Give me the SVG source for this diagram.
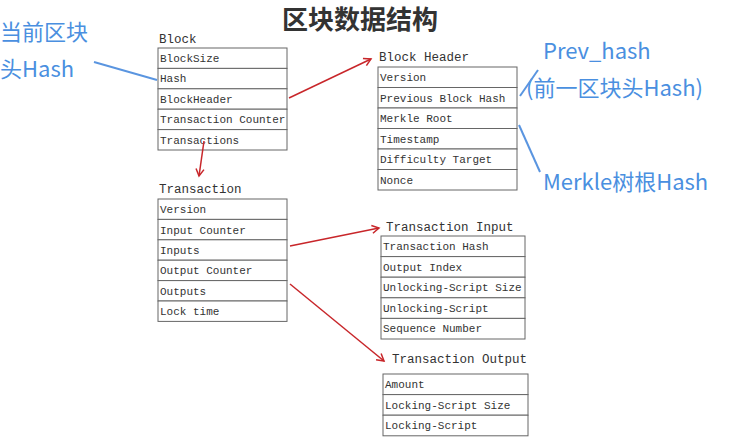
<svg xmlns="http://www.w3.org/2000/svg" width="736" height="437" viewBox="0 0 736 437">
<style>
.r{fill:#fff;stroke:#666;stroke-width:1}
.t{font-family:"Liberation Mono","Noto Sans CJK SC",monospace;font-size:11px;fill:#333}
.h{font-family:"Liberation Mono","Noto Sans CJK SC",monospace;font-size:12.5px;fill:#333}
.b{font-family:"Noto Sans CJK SC",sans-serif;font-size:22px;fill:#4a8fe0}
.bl{stroke:#5a95e0;stroke-width:2;fill:none}
.a{stroke:#c8262a;stroke-width:1.5;fill:none;marker-end:url(#m)}
</style>
<defs><marker id="m" markerWidth="10" markerHeight="10" refX="8" refY="5" orient="auto" markerUnits="userSpaceOnUse"><path d="M1,1 L8,5 L1,9" fill="none" stroke="#c8262a" stroke-width="1.5"/></marker></defs>
<rect width="736" height="437" fill="#fff"/>
<text x="360" y="29" text-anchor="middle" font-family="Noto Sans CJK SC,sans-serif" font-size="26" font-weight="bold" fill="#333">区块数据结构</text>
<g id="block">
<text class="h" x="159" y="43">Block</text>
<rect class="r" x="158" y="48" width="129" height="20.4"/><rect class="r" x="158" y="68.4" width="129" height="20.4"/><rect class="r" x="158" y="88.8" width="129" height="20.4"/><rect class="r" x="158" y="109.2" width="129" height="20.4"/><rect class="r" x="158" y="129.6" width="129" height="20.4"/>
<text class="t" x="160" y="62">BlockSize</text><text class="t" x="160" y="82">Hash</text><text class="t" x="160" y="103">BlockHeader</text><text class="t" x="160" y="123">Transaction Counter</text><text class="t" x="160" y="144">Transactions</text>
</g>
<g id="header">
<text class="h" x="379" y="61">Block Header</text>
<rect class="r" x="378" y="67" width="139" height="20.5"/><rect class="r" x="378" y="87.5" width="139" height="20.5"/><rect class="r" x="378" y="108" width="139" height="20.5"/><rect class="r" x="378" y="128.5" width="139" height="20.5"/><rect class="r" x="378" y="149" width="139" height="20.5"/><rect class="r" x="378" y="169.5" width="139" height="20.5"/>
<text class="t" x="380" y="81">Version</text><text class="t" x="380" y="102">Previous Block Hash</text><text class="t" x="380" y="122">Merkle Root</text><text class="t" x="380" y="143">Timestamp</text><text class="t" x="380" y="163">Difficulty Target</text><text class="t" x="380" y="184">Nonce</text>
</g>
<g id="transaction">
<text class="h" x="159" y="193">Transaction</text>
<rect class="r" x="158" y="199" width="129" height="20.4"/><rect class="r" x="158" y="219.4" width="129" height="20.4"/><rect class="r" x="158" y="239.8" width="129" height="20.4"/><rect class="r" x="158" y="260.2" width="129" height="20.4"/><rect class="r" x="158" y="280.6" width="129" height="20.4"/><rect class="r" x="158" y="301" width="129" height="20.4"/>
<text class="t" x="160" y="213">Version</text><text class="t" x="160" y="234">Input Counter</text><text class="t" x="160" y="254">Inputs</text><text class="t" x="160" y="274">Output Counter</text><text class="t" x="160" y="295">Outputs</text><text class="t" x="160" y="315">Lock time</text>
</g>
<g id="input">
<text class="h" x="386" y="231">Transaction Input</text>
<rect class="r" x="381" y="236" width="144" height="20.6"/><rect class="r" x="381" y="256.6" width="144" height="20.6"/><rect class="r" x="381" y="277.2" width="144" height="20.6"/><rect class="r" x="381" y="297.8" width="144" height="20.6"/><rect class="r" x="381" y="318.4" width="144" height="20.6"/>
<text class="t" x="383" y="250">Transaction Hash</text><text class="t" x="383" y="271">Output Index</text><text class="t" x="383" y="291">Unlocking-Script Size</text><text class="t" x="383" y="312">Unlocking-Script</text><text class="t" x="383" y="332">Sequence Number</text>
</g>
<g id="output">
<text class="h" x="392" y="363">Transaction Output</text>
<rect class="r" x="383" y="374" width="145" height="20.6"/><rect class="r" x="383" y="394.6" width="145" height="20.6"/><rect class="r" x="383" y="415.2" width="145" height="20.6"/>
<text class="t" x="385" y="388">Amount</text><text class="t" x="385" y="409">Locking-Script Size</text><text class="t" x="385" y="429">Locking-Script</text>
</g>
<g id="notes">
<text class="b" x="0" y="40">当前区块</text><text class="b" x="0" y="77">头Hash</text>
<text class="b" x="543" y="59">Prev_hash</text><text class="b" x="526" y="96">(前一区块头Hash)</text>
<text class="b" x="543" y="190">Merkle树根Hash</text>
</g>
<g id="connectors">
<path class="bl" d="M94,62 L157,80"/><path class="bl" d="M520,96 L538,70"/><path class="bl" d="M519,125 L540,172"/>
<path class="a" d="M289,98 L371,59"/>
<path class="a" d="M204,141 L199,176"/>
<path class="a" d="M290,246 L379,228"/>
<path class="a" d="M290,284 L384,361"/>
</g>
</svg>
